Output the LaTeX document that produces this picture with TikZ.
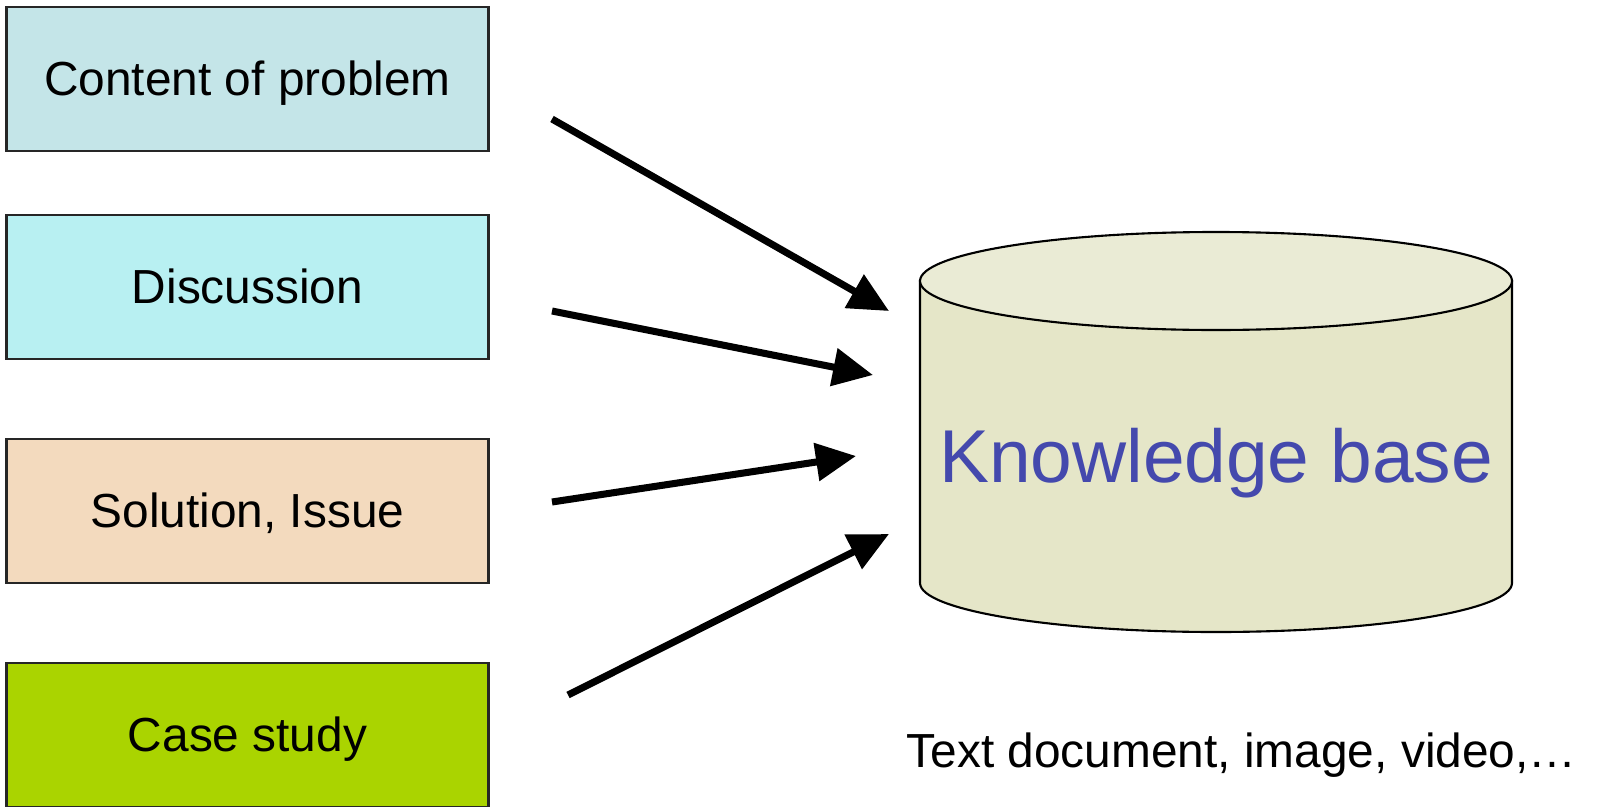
\documentclass[tikz,border=0pt]{standalone}
\usepackage{fontspec}
\setmainfont{Liberation Sans}
\usepackage[rgb]{xcolor}
\usepackage{tikz}
\usetikzlibrary{calc,arrows.meta,positioning}

\definecolor{probcol}{HTML}{C4E5E8}
\definecolor{disccol}{HTML}{B8F0F2}
\definecolor{solcol}{HTML}{F3DABE}
\definecolor{casecol}{HTML}{AAD400}
\definecolor{kbbody}{HTML}{E5E6C8}
\definecolor{kbtop}{HTML}{EAEBD5}
\definecolor{kbtext}{HTML}{4449AD}

\tikzset{
  srcbox/.style={draw=black!85,line width=0.8pt,minimum width=4.81cm,minimum height=1.44cm,text height=12.5pt,text depth=2.9pt,font=\fontsize{13.6}{16}\selectfont},
  feed/.style={line width=2pt,-{Triangle[length=0.4cm,width=0.37cm]}}
}

\begin{document}
\begin{tikzpicture}[x=0.01cm,y=-0.01cm]

    \useasboundingbox (0,0) rectangle (1597,806);

    \node (problem) at (247.5,79) [srcbox,fill=probcol] {Content of problem};
    \node (discuss) at (247.5,287) [srcbox,fill=disccol] {Discussion};
    \node (solution) at (247.5,511) [srcbox,fill=solcol] {Solution, Issue};
    \node (casestudy) at (247.5,735) [srcbox,fill=casecol] {Case study};

    \filldraw[fill=kbbody,line width=0.6pt] (920,281) -- (920,583)
      arc[start angle=180,end angle=0,x radius=296,y radius=49] -- (1512,281) -- cycle;
    \filldraw[fill=kbtop,line width=0.6pt] (1216,281) ellipse[x radius=296,y radius=49];
    \node (kb) at (1216,463) [text=kbtext,font=\fontsize{21.3}{25}\selectfont] {Knowledge base};

    \node (media) at (906,767) [anchor=base west,inner sep=0pt,font=\fontsize{13.6}{16}\selectfont] {Text document, image, video,\dots};

    \coordinate (p1) at (552,119);
    \coordinate (p2) at (552,311);
    \coordinate (p3) at (552,502);
    \coordinate (p4) at (568,695);
    \coordinate (k1) at (889,311);
    \coordinate (k2) at (873,375);
    \coordinate (k3) at (856,456);
    \coordinate (k4) at (889,534);

    \draw[feed] (p1) -- (k1);
    \draw[feed] (p2) -- (k2);
    \draw[feed] (p3) -- (k3);
    \draw[feed] (p4) -- (k4);

\end{tikzpicture}
\end{document}
